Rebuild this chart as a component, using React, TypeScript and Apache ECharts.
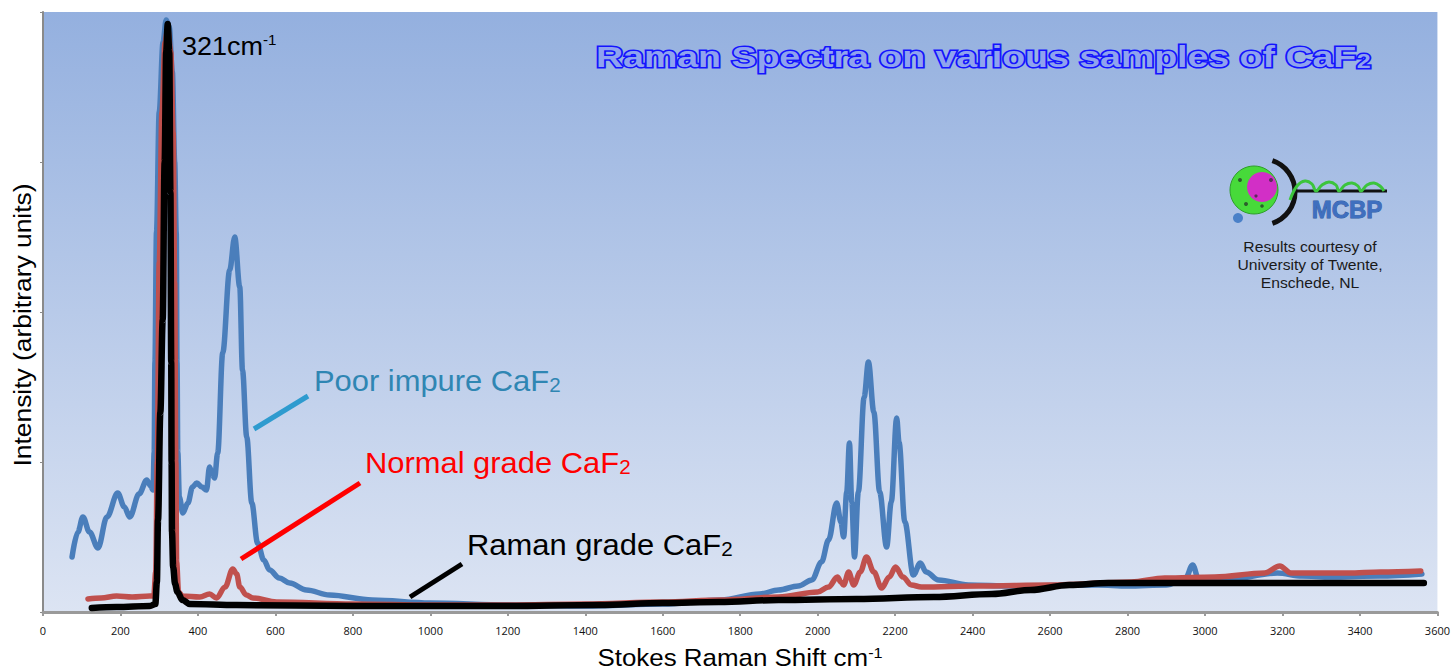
import React, { useEffect, useRef } from "react";
import * as echarts from "echarts";

// ---- Data (Stokes Raman shift in cm-1, intensity in arbitrary units) ----
const poorShift = [
  75, 90, 103, 120, 142, 165, 193, 210, 224, 248, 268, 278, 284, 287, 289, 293, 300, 310, 318, 326,
  334, 340, 344, 346, 348, 352, 361, 374, 386, 397, 410, 422, 430, 437, 443, 451, 464, 482, 495, 508,
  515, 526, 539, 554, 570, 585, 610, 637, 680, 740, 850, 1000, 1200, 1400, 1600, 1750, 1850, 1899, 1950, 1985,
  2010, 2028, 2049, 2060, 2067, 2075, 2082, 2088, 2095, 2105, 2120, 2131, 2145, 2160, 2178, 2190, 2204, 2210, 2225, 2247,
  2265, 2280, 2312, 2389, 2500, 2723, 2800, 2900, 2950, 2968, 2985, 3050, 3187, 3250, 3324, 3450, 3560,
];
const poorIntensity = [
  55, 80, 95, 80, 64, 95, 119, 105, 95, 118, 132, 126, 122, 160, 250, 380, 500, 570, 592, 585,
  540, 450, 380, 250, 160, 115, 99, 109, 125, 129, 125, 122, 145, 138, 134, 159, 259, 342, 375, 325,
  242, 175, 109, 69, 52, 42, 34, 29, 22, 17, 12, 9, 7, 6, 8, 12, 18, 22, 26, 32,
  50, 72, 109, 90, 75, 120, 169, 110, 55, 120, 215, 250, 200, 120, 65, 110, 194, 170, 90, 37,
  49, 40, 32, 27, 26, 27, 26, 27, 34, 47, 31, 32, 39, 36, 35, 36, 38,
];

const normalShift = [
  116, 150, 190, 230, 276, 286, 291, 295, 300, 307, 315, 322, 330, 336, 340, 343, 345, 350, 360, 405,
  430, 448, 470, 490, 500, 508, 525, 542, 603, 800, 1000, 1200, 1400, 1600, 1750, 1899, 2000, 2028, 2051, 2060,
  2067, 2080, 2093, 2110, 2126, 2145, 2165, 2185, 2201, 2220, 2242, 2268, 2415, 2600, 2809, 2896, 3025, 3154, 3193, 3222,
  3369, 3454, 3557,
];
const normalIntensity = [
  13, 14, 16, 15, 16, 16, 40, 150, 350, 500, 570, 583, 560, 480, 330, 150, 50, 20, 16, 15,
  18, 14, 25, 43, 38, 25, 17, 14, 10, 8, 7, 7, 8, 10, 12, 15, 20, 25, 35, 30,
  27, 40, 27, 40, 55, 40, 24, 35, 45, 35, 27, 25, 26, 27, 30, 34, 35, 39, 46, 39,
  39, 40, 41,
];

const ramanShift = [
  126, 190, 276, 290, 294, 297, 303, 309, 314, 318, 322, 326, 329, 331, 332, 333, 336, 341, 347, 360,
  379, 500, 800, 1000, 1200, 1435, 1600, 1745, 1899, 2100, 2300, 2450, 2550, 2650, 2750, 3000, 3300, 3565,
];
const ramanIntensity = [
  4, 5, 6, 8, 30, 92, 200, 292, 450, 560, 588, 560, 420, 250, 150, 80, 45, 28, 20, 12,
  8, 7, 6, 6, 6, 7, 9, 10, 12, 13, 15, 18, 22, 27, 29, 29, 29, 29,
];

const seriesNames = ["Poor impure CaF2", "Normal grade CaF2", "Raman grade CaF2"];
const seriesColors = ["#4A7EBB", "#C0504D", "#000000"];

const pair = (xs: number[], ys: number[]) => xs.map((x, i) => [x, ys[i]]);

const ARIAL = "'Liberation Sans', Arial, sans-serif";

export default function App() {
  const ref = useRef<HTMLDivElement>(null);

  useEffect(() => {
    if (!ref.current) return;
    const chart = echarts.init(ref.current, undefined, { renderer: "svg" });

    const lineSeries = (name: string, data: number[][], color: string, width: number, z: number) => ({
      name,
      type: "line",
      data,
      showSymbol: false,
      smooth: 0.35,
      smoothMonotone: "x",
      z,
      lineStyle: { color, width, cap: "round", join: "round" },
      emphasis: { disabled: true },
    });

    const subStyle = (fill: string) => ({
      sub: { fontSize: 20, fontFamily: ARIAL, verticalAlign: "bottom", fill },
    });

    const option: any = {
      animation: false,
      backgroundColor: "#ffffff",
      grid: {
        left: 43,
        right: 13,
        top: 12,
        bottom: 58,
        show: true,
        borderWidth: 0,
        backgroundColor: new echarts.graphic.LinearGradient(0, 0, 0, 1, [
          { offset: 0, color: "#94B0DF" },
          { offset: 1, color: "#DCE4F3" },
        ]),
      },
      xAxis: {
        type: "value",
        min: 0,
        max: 3600,
        interval: 200,
        splitLine: { show: false },
        axisLine: { onZero: false, lineStyle: { color: "#9a9a9a", width: 3 } },
        axisTick: { length: 4, lineStyle: { color: "#9a9a9a", width: 2 } },
        axisLabel: {
          color: "#111",
          fontSize: 11,
          fontFamily: "'Open Sans', sans-serif",
          margin: 13,
          formatter: (v: number) => String(v),
        },
      },
      yAxis: {
        type: "value",
        min: 0,
        max: 600,
        interval: 150,
        splitLine: { show: false },
        axisLine: { show: true, lineStyle: { color: "#8a8a8a", width: 2 } },
        axisTick: { show: true, length: 3, lineStyle: { color: "#8a8a8a", width: 1 } },
        axisLabel: { show: false },
      },
      series: [
        lineSeries(seriesNames[0], pair(poorShift, poorIntensity), seriesColors[0], 5.5, 2),
        lineSeries(seriesNames[1], pair(normalShift, normalIntensity), seriesColors[1], 5.5, 3),
        lineSeries(seriesNames[2], pair(ramanShift, ramanIntensity), seriesColors[2], 6.5, 4),
      ],
      graphic: [
        // Title
        {
          type: "text",
          x: 596,
          y: 56,
          scaleX: 1.25,
          z: 100,
          style: {
            text: "Raman Spectra on various samples of CaF{sub|2}",
            x: 0,
            y: 0,
            textAlign: "left",
            textVerticalAlign: "middle",
            font: `bold 30px ${ARIAL}`,
            fill: "#8FA3EE",
            stroke: "#1414FF",
            lineWidth: 3,
            rich: {
              sub: {
                fontSize: 20,
                fontWeight: "bold",
                fontFamily: ARIAL,
                verticalAlign: "bottom",
                fill: "#8FA3EE",
                stroke: "#1414FF",
                lineWidth: 3,
              },
            },
          },
        },
        // 321 cm-1 annotation
        {
          type: "text",
          x: 182,
          y: 46,
          scaleX: 1.08,
          z: 100,
          style: {
            text: "321cm{sup|-1}",
            textAlign: "left",
            textVerticalAlign: "middle",
            font: `25px ${ARIAL}`,
            fill: "#000",
            rich: { sup: { fontSize: 14, fontFamily: ARIAL, verticalAlign: "top", fill: "#000" } },
          },
        },
        // Leader lines
        { type: "line", z: 100, shape: { x1: 254, y1: 429, x2: 308, y2: 396 }, style: { stroke: "#2E9BCF", lineWidth: 5 } },
        { type: "line", z: 100, shape: { x1: 241, y1: 559, x2: 360, y2: 483 }, style: { stroke: "#FF0000", lineWidth: 5 } },
        { type: "line", z: 100, shape: { x1: 410, y1: 597, x2: 462, y2: 564 }, style: { stroke: "#000000", lineWidth: 5 } },
        // Series labels
        {
          type: "text",
          x: 314,
          y: 380,
          scaleX: 1.03,
          z: 100,
          style: {
            text: "Poor impure CaF{sub|2}",
            textAlign: "left",
            textVerticalAlign: "middle",
            font: `30px ${ARIAL}`,
            fill: "#2F86B3",
            rich: subStyle("#2F86B3"),
          },
        },
        {
          type: "text",
          x: 365,
          y: 462,
          scaleX: 1.03,
          z: 100,
          style: {
            text: "Normal grade CaF{sub|2}",
            textAlign: "left",
            textVerticalAlign: "middle",
            font: `30px ${ARIAL}`,
            fill: "#FF0000",
            rich: subStyle("#FF0000"),
          },
        },
        {
          type: "text",
          x: 467,
          y: 544,
          scaleX: 1.03,
          z: 100,
          style: {
            text: "Raman grade CaF{sub|2}",
            textAlign: "left",
            textVerticalAlign: "middle",
            font: `30px ${ARIAL}`,
            fill: "#000000",
            rich: subStyle("#000000"),
          },
        },
        // Axis titles
        {
          type: "text",
          x: 740,
          y: 657,
          scaleX: 1.08,
          z: 100,
          style: {
            text: "Stokes Raman Shift cm{sup|-1}",
            textAlign: "center",
            textVerticalAlign: "middle",
            font: `24px ${ARIAL}`,
            fill: "#000",
            rich: { sup: { fontSize: 15, fontFamily: ARIAL, verticalAlign: "top", fill: "#000" } },
          },
        },
        {
          type: "text",
          x: 22,
          y: 325,
          rotation: Math.PI / 2,
          scaleX: 1.1,
          z: 100,
          style: {
            text: "Intensity (arbitrary units)",
            textAlign: "center",
            textVerticalAlign: "middle",
            font: `24px ${ARIAL}`,
            fill: "#000",
          },
        },
        // MCBP logo
        {
          type: "group",
          z: 100,
          children: [
            { type: "circle", shape: { cx: 1238, cy: 218, r: 5 }, style: { fill: "#4A80C8" } },
            { type: "circle", shape: { cx: 1254, cy: 190, r: 24 }, style: { fill: "#47DA3A", stroke: "#2E9E2A", lineWidth: 1 } },
            { type: "circle", shape: { cx: 1262, cy: 187, r: 15 }, style: { fill: "#D22FC6" } },
            { type: "circle", shape: { cx: 1240, cy: 180, r: 2 }, style: { fill: "#2C5F2C" } },
            { type: "circle", shape: { cx: 1246, cy: 204, r: 2 }, style: { fill: "#2C5F2C" } },
            { type: "circle", shape: { cx: 1262, cy: 206, r: 1.8 }, style: { fill: "#2C5F2C" } },
            { type: "circle", shape: { cx: 1271, cy: 180, r: 2 }, style: { fill: "#5A2A5A" } },
            { type: "circle", shape: { cx: 1256, cy: 196, r: 1.6 }, style: { fill: "#5A2A5A" } },
            {
              type: "arc",
              shape: { cx: 1262, cy: 192, r: 33, startAngle: -1.25, endAngle: 1.25 },
              style: { stroke: "#111", lineWidth: 5, fill: "none" },
            },
            { type: "line", shape: { x1: 1296, y1: 191, x2: 1387, y2: 191 }, style: { stroke: "#111", lineWidth: 3 } },
            {
              type: "polyline",
              shape: {
                points: [
                  [1290, 200], [1297, 186], [1305, 181], [1312, 184], [1316, 191], [1322, 185], [1329, 182],
                  [1336, 185], [1339, 191], [1345, 185], [1352, 183], [1358, 186], [1361, 191], [1367, 185],
                  [1374, 183], [1380, 186], [1384, 191],
                ],
                smooth: 0.4,
              },
              style: { stroke: "#3CC43C", lineWidth: 3, fill: "none" },
            },
            {
              type: "text",
              x: 1347,
              y: 209,
              style: {
                text: "MCBP",
                textAlign: "center",
                textVerticalAlign: "middle",
                font: `bold 24px ${ARIAL}`,
                fill: "#3F6FBF",
                stroke: "#2E5A9E",
                lineWidth: 0.8,
              },
            },
          ],
        },
        // Credits
        {
          type: "text",
          x: 1310,
          y: 265,
          scaleX: 1.12,
          z: 100,
          style: {
            text: "Results courtesy of\nUniversity of Twente,\nEnschede, NL",
            textAlign: "center",
            textVerticalAlign: "middle",
            font: `14px ${ARIAL}`,
            lineHeight: 18,
            fill: "#1a1a1a",
          },
        },
      ],
    };

    chart.setOption(option);
    return () => chart.dispose();
  }, []);

  return <div ref={ref} style={{ width: 1453, height: 670, position: "absolute", left: 0, top: 0 }} />;
}
